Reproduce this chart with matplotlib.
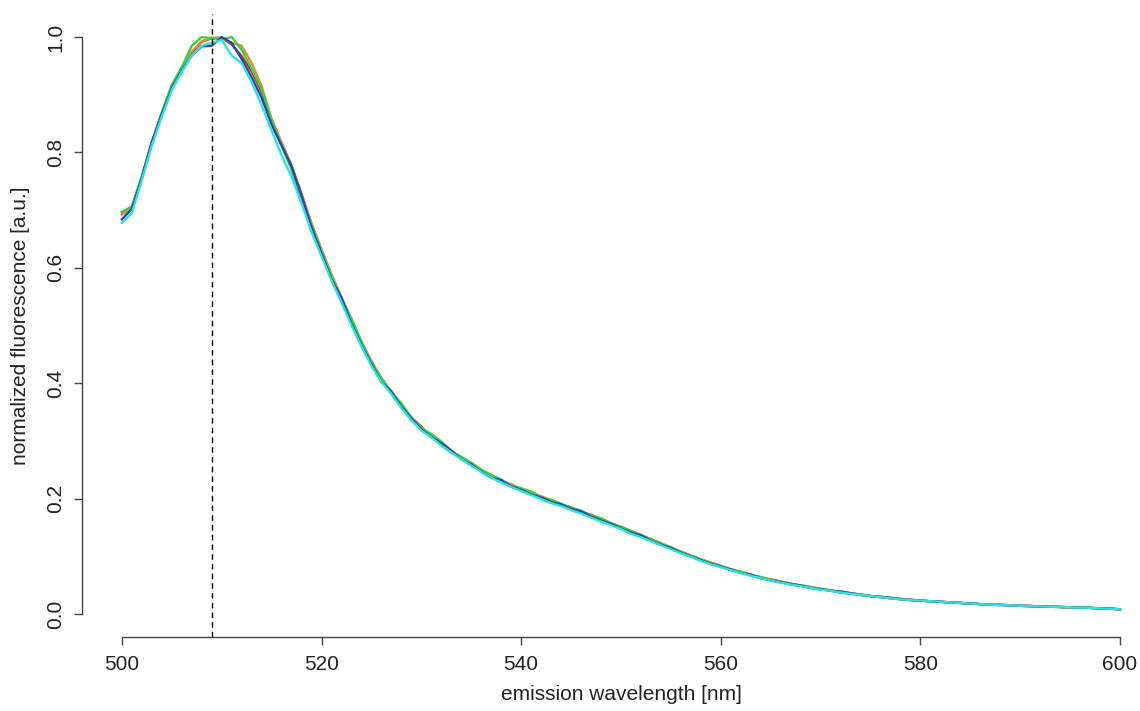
import numpy as np
import matplotlib
matplotlib.use("Agg")
import matplotlib.pyplot as plt

plt.rcParams['font.family'] = ['Liberation Sans', 'DejaVu Sans']

# emission spectra, 1 nm steps from 500 to 600 nm
wavelength = np.arange(500, 601)

red = [
    .696, .706, .758, .818, .868, .916, .946, .973, .992, .998,
    .999, .987, .967, .940, .905, .853, .815, .776, .728, .676,
    .630, .586, .548, .508, .470, .438, .408, .385, .362, .340,
    .325, .306, .297, .280, .272, .261, .249, .240, .231, .224,
    .216, .211, .203, .196, .188, .185, .176, .172, .164, .157,
    .151, .143, .137, .129, .122, .115, .108, .101, .093, .089,
    .083, .076, .073, .068, .062, .060, .056, .051, .049, .046,
    .043, .041, .037, .036, .033, .031, .030, .027, .026, .025,
    .023, .022, .021, .020, .019, .018, .017, .016, .016, .015,
    .014, .014, .013, .0125, .012, .0115, .011, .0105, .0095, .009, .008]

orange = [
    .692, .704, .755, .815, .867, .914, .944, .975, .993, .999,
    .998, .990, .985, .955, .915, .858, .818, .778, .726, .677,
    .632, .589, .549, .509, .472, .437, .404, .386, .363, .336,
    .323, .310, .293, .279, .271, .262, .250, .239, .229, .225,
    .217, .209, .204, .197, .190, .184, .178, .171, .165, .157,
    .150, .144, .136, .129, .123, .115, .108, .101, .095, .089,
    .083, .078, .073, .068, .064, .059, .056, .053, .049, .047,
    .043, .041, .038, .035, .034, .031, .029, .028, .026, .024,
    .023, .022, .021, .020, .019, .018, .017, .016, .0155, .015,
    .014, .0135, .013, .0125, .012, .0115, .011, .0105, .0095, .009, .008]

green = [
    .697, .705, .759, .817, .869, .917, .948, .985, 1.000, .998,
    .996, 1.000, .978, .945, .910, .856, .812, .770, .718, .674,
    .628, .585, .547, .512, .472, .436, .409, .384, .365, .341,
    .322, .312, .299, .283, .272, .262, .250, .241, .233, .222,
    .218, .212, .202, .198, .191, .184, .179, .170, .166, .157,
    .151, .144, .136, .130, .121, .116, .107, .101, .095, .088,
    .083, .077, .073, .067, .064, .059, .056, .052, .050, .046,
    .044, .040, .038, .035, .034, .031, .030, .027, .026, .024,
    .023, .022, .021, .020, .019, .018, .017, .016, .0155, .015,
    .014, .0135, .013, .0125, .012, .0115, .011, .0105, .0095, .009, .008]

blue = [
    .684, .702, .756, .818, .866, .911, .942, .968, .984, .985,
    1.000, .990, .962, .930, .895, .848, .812, .776, .725, .670,
    .625, .580, .548, .503, .466, .433, .402, .385, .359, .339,
    .320, .307, .296, .283, .268, .259, .247, .236, .232, .221,
    .215, .207, .202, .194, .190, .182, .178, .169, .162, .156,
    .148, .141, .136, .127, .120, .114, .106, .100, .093, .087,
    .082, .077, .071, .068, .062, .058, .055, .052, .049, .045,
    .043, .040, .039, .036, .033, .031, .029, .028, .025, .024,
    .023, .022, .021, .020, .019, .018, .017, .016, .0155, .015,
    .014, .0135, .013, .0125, .012, .0115, .011, .0105, .0095, .009, .008]

cyan = [
    .678, .695, .752, .812, .862, .908, .940, .968, .985, .990,
    .995, .968, .955, .922, .882, .838, .795, .758, .712, .662,
    .620, .578, .540, .500, .464, .430, .402, .381, .357, .336,
    .318, .306, .292, .280, .268, .257, .246, .236, .228, .220,
    .213, .206, .199, .192, .187, .180, .174, .167, .160, .154,
    .147, .139, .133, .126, .119, .112, .105, .099, .092, .086,
    .081, .076, .071, .066, .062, .058, .054, .051, .048, .045,
    .042, .040, .037, .035, .033, .031, .029, .027, .025, .024,
    .023, .022, .021, .020, .019, .018, .017, .016, .0155, .015,
    .014, .0135, .013, .0125, .012, .0115, .011, .0105, .0095, .009, .008]

series = [red, orange, green, blue, cyan]
colors = ['#d42a2a', '#e0913a', '#3ccf3c', '#2a45b0', '#2ee0e0']

peak_nm = 509
x_ticks = [500, 520, 540, 560, 580, 600]
y_ticks = [0.0, 0.2, 0.4, 0.6, 0.8, 1.0]

fig = plt.figure(figsize=(11.4, 7.11), dpi=100)
# R-style plot region: 4% padding, right edge runs past the cropped image
ax = fig.add_axes([0.0719, 0.1041, 0.9456, 0.8762])

for vals, c in zip(series, colors):
    ax.plot(wavelength, vals, color=c, lw=1.7)

ax.axvline(peak_nm, color='black', lw=1.0, ls=(0, (4, 3)))

ax.set_xlim(496, 604)
ax.set_ylim(-0.04, 1.04)

for s in ['top', 'right']:
    ax.spines[s].set_visible(False)
ax.spines['bottom'].set_bounds(500, 600)
ax.spines['left'].set_bounds(0, 1)
for s in ['bottom', 'left']:
    ax.spines[s].set_color('#444444')
    ax.spines[s].set_linewidth(1.0)

ax.set_xticks(x_ticks)
ax.set_yticks(y_ticks)
ax.set_yticklabels([f"{v:.1f}" for v in y_ticks], rotation=90, va='center')
ax.tick_params(axis='both', direction='out', length=6, width=1.0,
               color='#444444', labelsize=15, labelcolor='#222222')
ax.tick_params(axis='x', pad=7)
ax.tick_params(axis='y', pad=6)

ax.set_xlabel('emission wavelength [nm]', fontsize=15, color='#222222', labelpad=8)
ax.set_ylabel('normalized fluorescence [a.u.]', fontsize=15, color='#222222', labelpad=12)

fig.savefig('out.png', dpi=100)
